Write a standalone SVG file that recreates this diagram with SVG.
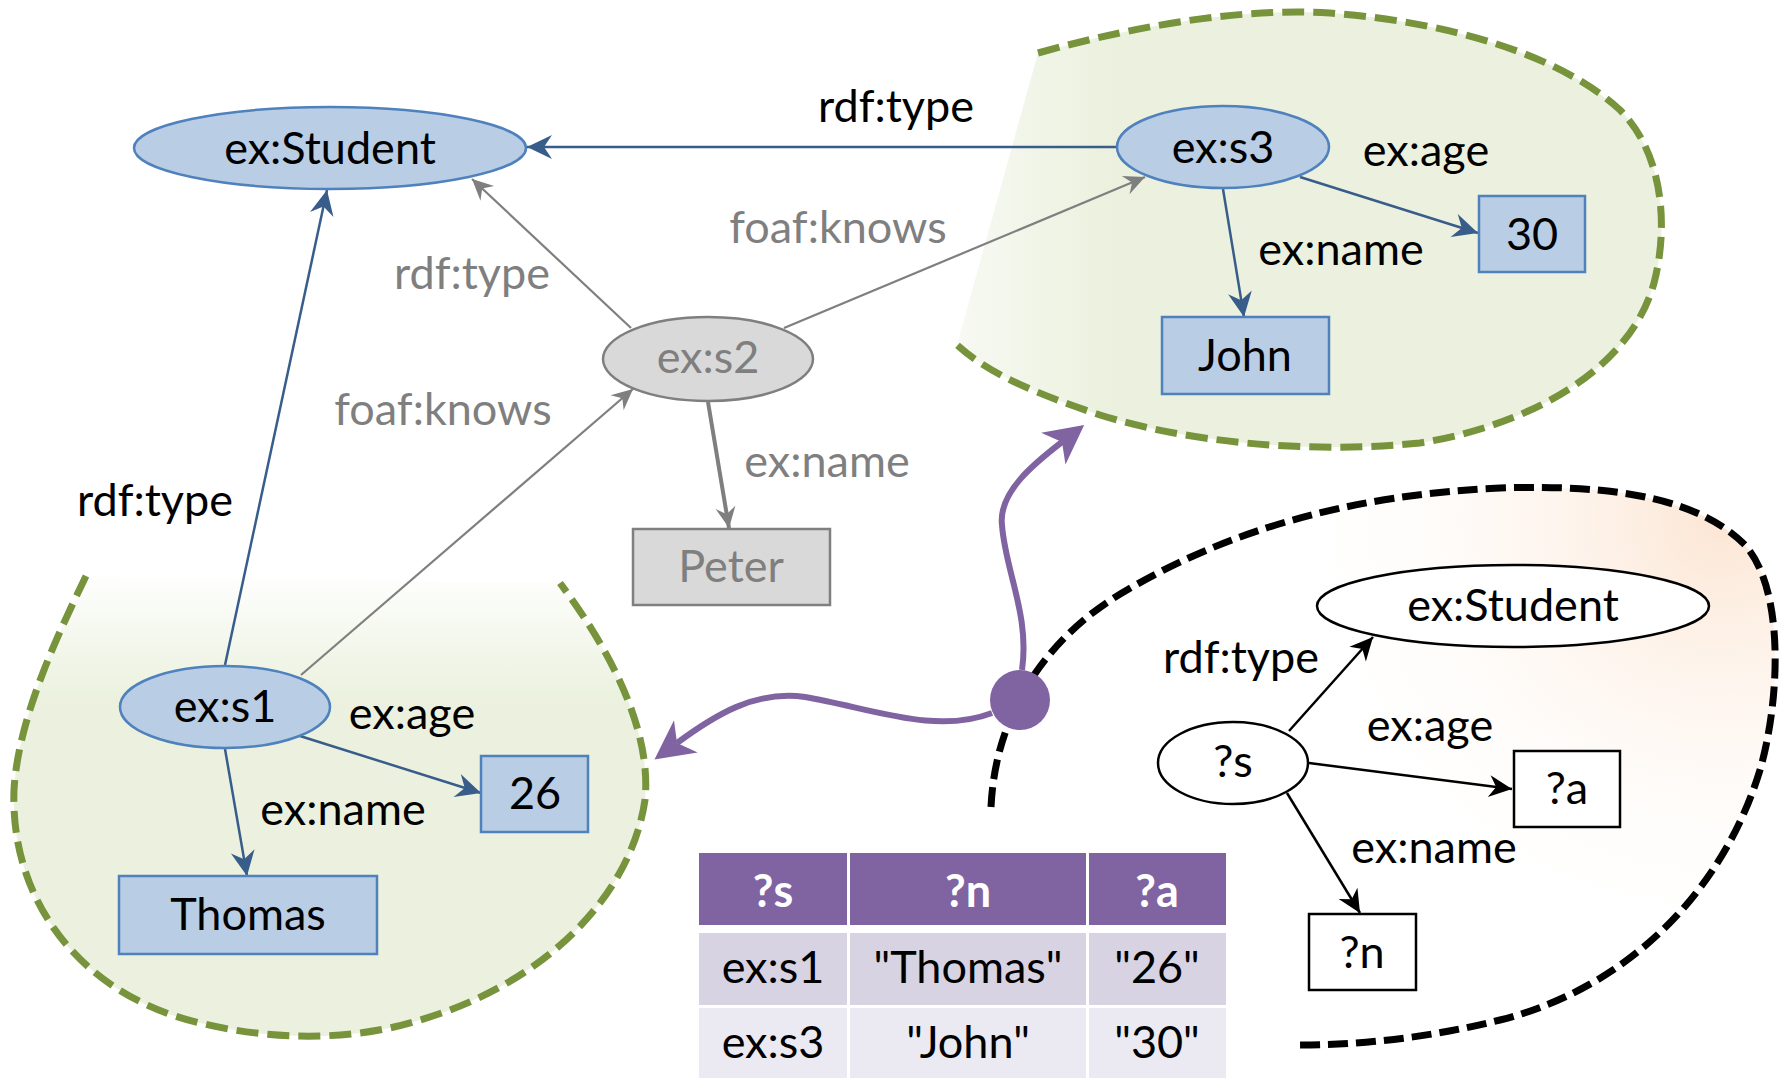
<svg xmlns="http://www.w3.org/2000/svg" width="1789" height="1078" viewBox="0 0 1789 1078">
  <style>
    text { font-family: "Lato", "Liberation Sans", sans-serif; font-size: 45px; text-anchor: middle; }
    .lbl { fill: #000; }
    .glbl { fill: #7f7f7f; }
    .bnode { fill: #b9cde5; stroke: #4f81bd; stroke-width: 2.5; }
    .gnode { fill: #d9d9d9; stroke: #7f7f7f; stroke-width: 2.5; }
    .qnode { fill: #fff; stroke: #000; stroke-width: 2.5; }
    .bedge { stroke: #385d8a; stroke-width: 2.5; fill: none; marker-end: url(#arrBlue); }
    .gedge { stroke: #7f7f7f; stroke-width: 2.2; fill: none; marker-end: url(#arrGrey); }
    .kedge { stroke: #000; stroke-width: 2.5; fill: none; marker-end: url(#arrBlack); }
    .pedge { stroke: #8064a2; stroke-width: 6; fill: none; marker-end: url(#arrPurple); }
    .green { stroke: #77933c; stroke-width: 7; stroke-dasharray: 22 9; }
    .black { stroke: #000; stroke-width: 7; stroke-dasharray: 20 8; }
    .th { fill: #fff; font-weight: bold; }
  </style>
  <defs>
    <marker id="arrBlue" viewBox="-26 -13 27 26" markerWidth="27" markerHeight="26" refX="0" refY="0" orient="auto" markerUnits="userSpaceOnUse">
      <path d="M0,0 L-25,-12 L-17,0 L-25,12 Z" fill="#385d8a"/>
    </marker>
    <marker id="arrGrey" viewBox="-22 -11 23 22" markerWidth="23" markerHeight="22" refX="0" refY="0" orient="auto" markerUnits="userSpaceOnUse">
      <path d="M0,0 L-21,-10 L-14,0 L-21,10 Z" fill="#7f7f7f"/>
    </marker>
    <marker id="arrBlack" viewBox="-24 -12 25 24" markerWidth="25" markerHeight="24" refX="0" refY="0" orient="auto" markerUnits="userSpaceOnUse">
      <path d="M0,0 L-23,-11 L-16,0 L-23,11 Z" fill="#000"/>
    </marker>
    <marker id="arrPurple" viewBox="-12 -21 41 42" markerWidth="41" markerHeight="42" refX="0" refY="0" orient="auto" markerUnits="userSpaceOnUse">
      <path d="M28,0 L-11,-20 L0,0 L-11,20 Z" fill="#8064a2"/>
    </marker>
    <linearGradient id="fadeTop" gradientUnits="userSpaceOnUse" x1="0" y1="570" x2="0" y2="700">
      <stop offset="0" stop-color="#ffffff"/>
      <stop offset="1" stop-color="#ebf1de"/>
    </linearGradient>
    <linearGradient id="fadeLeft" gradientUnits="userSpaceOnUse" x1="960" y1="0" x2="1110" y2="0">
      <stop offset="0" stop-color="#f7f9f2"/>
      <stop offset="1" stop-color="#ebf1de"/>
    </linearGradient>
    <radialGradient id="peach" gradientUnits="userSpaceOnUse" cx="1720" cy="520" r="460">
      <stop offset="0" stop-color="#fce6d4"/>
      <stop offset="1" stop-color="#ffffff" stop-opacity="0"/>
    </radialGradient>
  </defs>

  <!-- solution regions -->
  <g id="region-s3">
    <path d="M1038,53 C1150,22 1250,8 1330,13 C1450,22 1560,55 1620,110 C1665,155 1668,230 1654,283 C1630,370 1530,425 1420,443 C1300,455 1180,440 1100,415 C1040,395 990,375 957,345 Z" fill="url(#fadeLeft)"/>
    <path d="M1038,53 C1150,22 1250,8 1330,13 C1450,22 1560,55 1620,110 C1665,155 1668,230 1654,283 C1630,370 1530,425 1420,443 C1300,455 1180,440 1100,415 C1040,395 990,375 957,345" fill="none" class="green"/>
  </g>
  <g id="region-s1">
    <path d="M86,576 C55,640 18,720 14,790 C10,900 80,995 200,1023 C270,1040 350,1042 420,1020 C540,985 630,900 645,800 C652,730 610,650 560,583 Z" fill="url(#fadeTop)"/>
    <path d="M86,576 C55,640 18,720 14,790 C10,900 80,995 200,1023 C270,1040 350,1042 420,1020 C540,985 630,900 645,800 C652,730 610,650 560,583" fill="none" class="green"/>
  </g>
  <!-- query pattern region -->
  <g id="region-query">
    <path d="M991,807 C995,720 1040,640 1127,590 C1230,530 1350,495 1500,488 C1620,484 1700,500 1745,545 C1785,590 1780,700 1760,770 C1720,900 1620,990 1500,1020 C1420,1040 1350,1045 1297,1045 Z" fill="url(#peach)"/>
    <path d="M991,807 C995,720 1040,640 1127,590 C1230,530 1350,495 1500,488 C1620,484 1700,500 1745,545 C1785,590 1780,700 1760,770 C1720,900 1620,990 1500,1020 C1420,1040 1350,1045 1297,1045" fill="none" class="black"/>
  </g>

  <!-- connectors -->
  <g id="connectors">
    <path class="bedge" d="M1117,147 L527,147"/>
    <path class="bedge" d="M225,665 L327,190"/>
    <path class="bedge" d="M300,736 L481,793"/>
    <path class="bedge" d="M225,749 L247,876"/>
    <path class="bedge" d="M1300,177 L1478,233"/>
    <path class="bedge" d="M1223,189 L1244,317"/>
    <path class="gedge" d="M301,675 L633,389"/>
    <path class="gedge" d="M631,328 L472,179"/>
    <path class="gedge" d="M784,328 L1145,177"/>
    <path class="gedge" style="stroke-width:4" d="M708,402 L729,528"/>
    <path class="kedge" d="M1289,731 L1373,637"/>
    <path class="kedge" d="M1309,763 L1512,789"/>
    <path class="kedge" d="M1287,793 L1360,913"/>
    <path class="pedge" d="M992,713 C935,735 870,708 805,697 C755,690 715,715 677,743"/>
    <path class="pedge" d="M1022,670 C1030,615 1005,570 1002,525 C998,492 1036,462 1062,442"/>
    <text class="lbl" x="896" y="122">rdf:type</text>
    <text class="glbl" x="838" y="243">foaf:knows</text>
    <text class="glbl" x="472" y="289">rdf:type</text>
    <text class="glbl" x="443" y="425">foaf:knows</text>
    <text class="glbl" x="827" y="477">ex:name</text>
    <text class="lbl" x="155" y="516">rdf:type</text>
    <text class="lbl" x="1426" y="166">ex:age</text>
    <text class="lbl" x="1341" y="265">ex:name</text>
    <text class="lbl" x="412" y="729">ex:age</text>
    <text class="lbl" x="343" y="825">ex:name</text>
    <text class="lbl" x="1241" y="673">rdf:type</text>
    <text class="lbl" x="1430" y="741">ex:age</text>
    <text class="lbl" x="1434" y="863">ex:name</text>
  </g>

  <!-- data graph nodes -->
  <g id="n-student">
    <ellipse class="bnode" cx="330" cy="148" rx="196" ry="41"/>
    <text x="330" y="164">ex:Student</text>
  </g>
  <g id="n-s3">
    <ellipse class="bnode" cx="1223" cy="147" rx="106" ry="41"/>
    <text x="1223" y="163">ex:s3</text>
  </g>
  <g id="n-s2">
    <ellipse class="gnode" cx="708" cy="359" rx="105" ry="42"/>
    <text class="glbl" x="708" y="373">ex:s2</text>
  </g>
  <g id="n-s1">
    <ellipse class="bnode" cx="225" cy="707" rx="105" ry="41"/>
    <text x="225" y="722">ex:s1</text>
  </g>
  <g id="n-30">
    <rect class="bnode" x="1479" y="196" width="106" height="76"/>
    <text x="1532" y="250">30</text>
  </g>
  <g id="n-john">
    <rect class="bnode" x="1162" y="317" width="167" height="77"/>
    <text x="1245" y="371">John</text>
  </g>
  <g id="n-peter">
    <rect class="gnode" x="633" y="529" width="197" height="76"/>
    <text class="glbl" x="731" y="582">Peter</text>
  </g>
  <g id="n-26">
    <rect class="bnode" x="481" y="756" width="107" height="76"/>
    <text x="535" y="809">26</text>
  </g>
  <g id="n-thomas">
    <rect class="bnode" x="119" y="876" width="258" height="78"/>
    <text x="248" y="930">Thomas</text>
  </g>

  <!-- query pattern nodes -->
  <g id="q-student">
    <ellipse class="qnode" cx="1513" cy="606" rx="196" ry="41"/>
    <text x="1513" y="621">ex:Student</text>
  </g>
  <g id="q-s">
    <ellipse class="qnode" cx="1233" cy="763" rx="75" ry="41"/>
    <text x="1233" y="777">?s</text>
  </g>
  <g id="q-a">
    <rect class="qnode" x="1514" y="751" width="106" height="76"/>
    <text x="1567" y="804">?a</text>
  </g>
  <g id="q-n">
    <rect class="qnode" x="1309" y="914" width="107" height="76"/>
    <text x="1362" y="968">?n</text>
  </g>

  <!-- join point -->
  <g id="join">
    <circle cx="1020" cy="700" r="30" fill="#8064a2"/>
  </g>

  <!-- result table -->
  <g id="results">
    <rect x="699" y="853" width="148" height="72" fill="#8064a2"/>
    <rect x="850" y="853" width="236" height="72" fill="#8064a2"/>
    <rect x="1089" y="853" width="137" height="72" fill="#8064a2"/>
    <rect x="699" y="933" width="148" height="72" fill="#d7d3e3"/>
    <rect x="850" y="933" width="236" height="72" fill="#d7d3e3"/>
    <rect x="1089" y="933" width="137" height="72" fill="#d7d3e3"/>
    <rect x="699" y="1008" width="148" height="70" fill="#ebe9f1"/>
    <rect x="850" y="1008" width="236" height="70" fill="#ebe9f1"/>
    <rect x="1089" y="1008" width="137" height="70" fill="#ebe9f1"/>
    <text class="th" x="773" y="907">?s</text>
    <text class="th" x="968" y="907">?n</text>
    <text class="th" x="1157" y="907">?a</text>
    <text x="773" y="983">ex:s1</text>
    <text x="968" y="983">"Thomas"</text>
    <text x="1157" y="983">"26"</text>
    <text x="773" y="1058">ex:s3</text>
    <text x="968" y="1058">"John"</text>
    <text x="1157" y="1058">"30"</text>
  </g>
</svg>
